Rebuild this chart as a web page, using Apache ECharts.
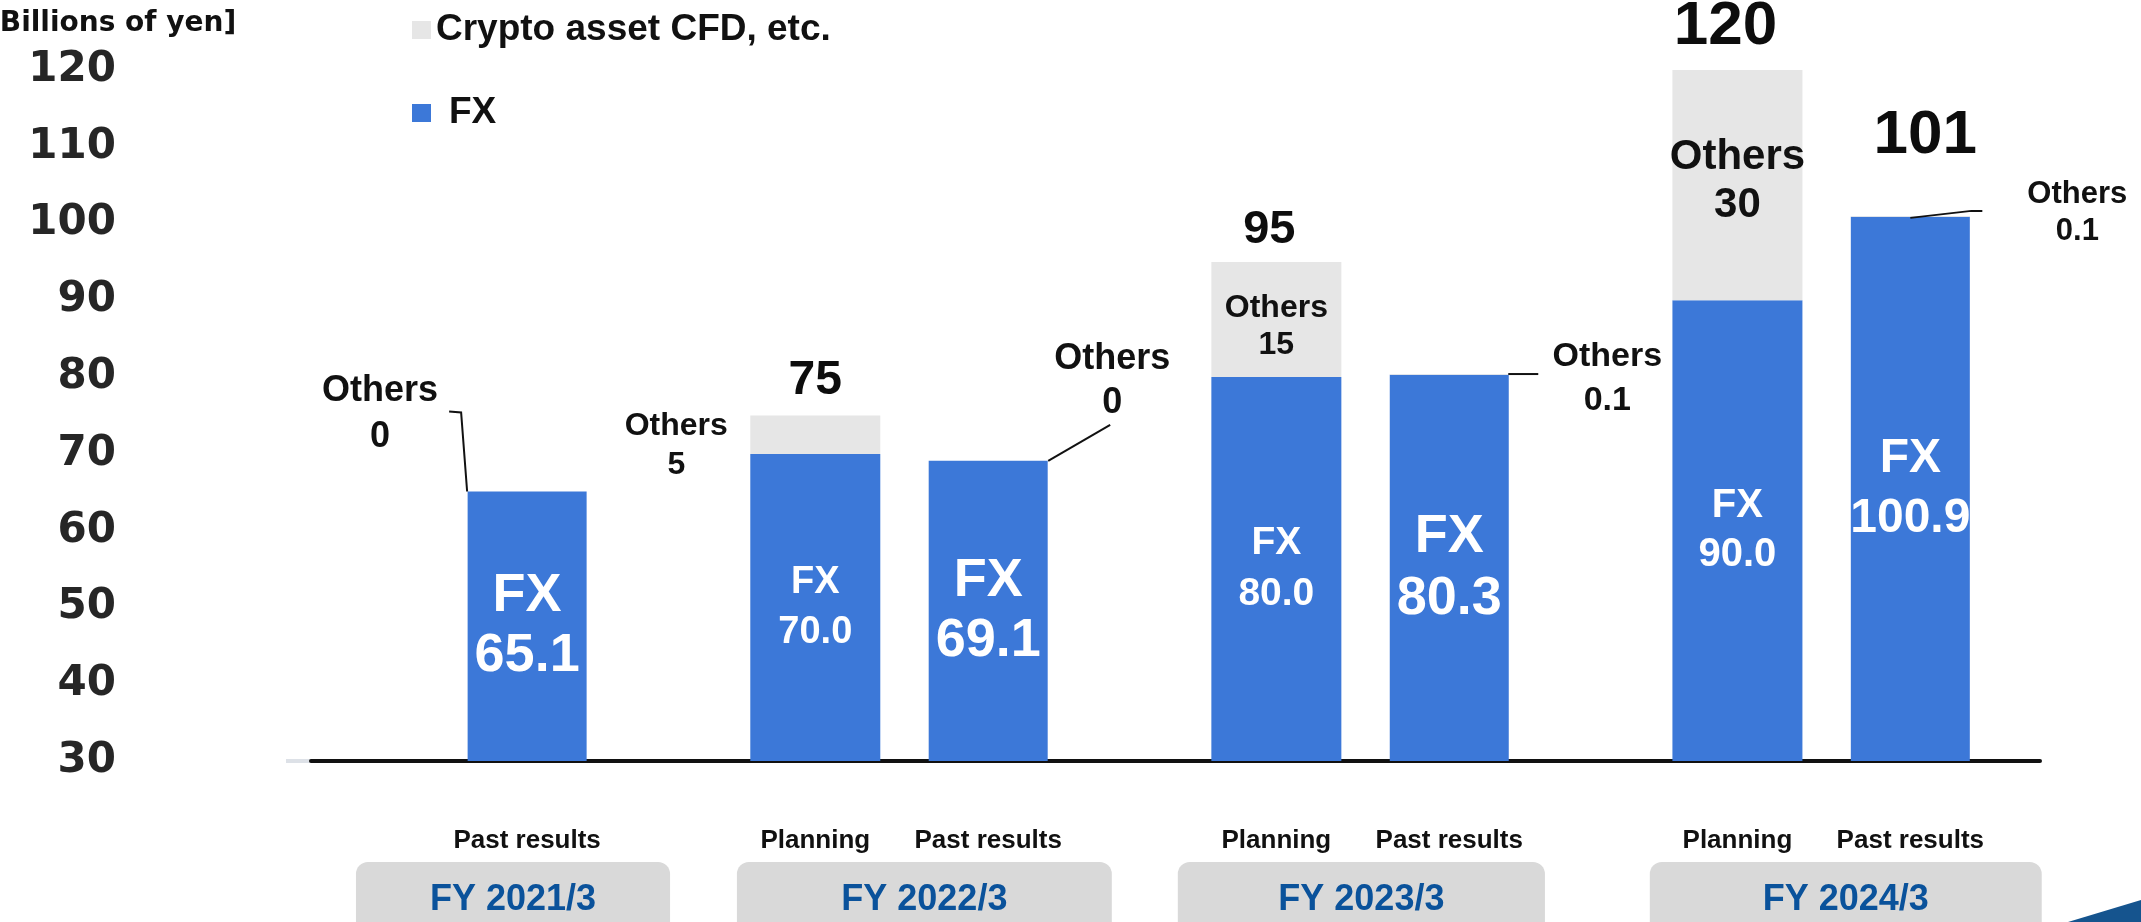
<!DOCTYPE html>
<html><head><meta charset="utf-8">
<script src="https://cdn.jsdelivr.net/npm/echarts@6/dist/echarts.min.js"></script>
<style>html,body{margin:0;padding:0;background:#fff}#c{width:2141px;height:922px}</style>
</head><body><div id="c"></div>
<script>
// ---------- data ----------
const CATEGORIES = ['Past results','Planning','Past results','Planning','Past results','Planning','Past results'];
const GROUPS = ['FY 2021/3','FY 2022/3','FY 2023/3','FY 2024/3'];
const FX = [65.1, 70.0, 69.1, 80.0, 80.3, 90.0, 100.9];
const OTHERS = [0, 5, 0, 15, 0.1, 30, 0.1];
const TOTAL_LABELS = ['', '75', '', '95', '', '120', '101'];
const SERIES_NAMES = ['Crypto asset CFD, etc.', 'FX'];
const Y_MIN = 30, Y_MAX = 120, Y_STEP = 10;
const Y_TITLE = '[Billions of yen]';

// ---------- layout (positions / sizes / styles) ----------
const N_SLOTS = 60;
const SLOT = [7, 17, 23, 33, 39, 49, 55];
const BOX_SPAN = [[1.06, 11.96], [14.28, 27.29], [29.58, 42.32], [45.96, 59.56]];
const FONT = "'Liberation Sans', Arial, sans-serif";
const WIDE_FONT = "'DejaVu Sans', 'Liberation Sans', sans-serif";
const BLUE = '#3c78d8', GREY = '#e6e6e6';
const TOTAL_STYLE = {1: {dx: 0, dy: -35, size: 48}, 3: {dx: -7, dy: -32, size: 47}, 5: {dx: -12, dy: -43, size: 62}, 6: {dx: 15, dy: -80, size: 62}};
const CALLOUT = {
  0: {dx: -147, dy: -77, size: 36, lh: 46, line: [[-60, 0], [-66, -79], [-78, -80]]},
  2: {dx: 124, dy: -80, size: 36, lh: 44, line: [[60, 0], [122, -36]]},
  4: {dx: 158, dy: 5, size: 34, lh: 44, line: [[59, 0], [89, 0]]},
  6: {dx: 167, dy: -3, size: 31, lh: 37, line: [[0, 2], [61, -5], [72, -5]]}
};
const OTHERS_LABEL = {
  1: {position: 'left', distance: 74, align: 'center', offset: [0, 11], fontSize: 32, lineHeight: 39},
  3: {position: 'inside', offset: [0, 7], fontSize: 32, lineHeight: 37},
  5: {position: 'inside', offset: [0, -4], fontSize: 42, lineHeight: 48}
};
const FX_LABEL_SIZE = {0: [54, 60], 1: [38, 50], 2: [54, 60], 3: [39, 51], 4: [54, 62], 5: [40, 49], 6: [48, 60]};

const isPlan = i => CATEGORIES[i] === 'Planning';
const slotLabels = Array(N_SLOTS).fill('');
SLOT.forEach((s, i) => { slotLabels[s] = CATEGORIES[i]; });
function slotData(values, pred, itemFn) {
  const arr = Array(N_SLOTS).fill('-');
  SLOT.forEach((s, i) => { if (pred(i)) arr[s] = itemFn ? itemFn(i, values[i]) : values[i]; });
  return arr;
}
const fxItem = (i, v) => ({value: v, label: {fontSize: FX_LABEL_SIZE[i][0], lineHeight: FX_LABEL_SIZE[i][1]}});
const fxLabel = {
  show: true, position: 'inside', color: '#fff', fontFamily: FONT, fontWeight: 'bold',
  formatter: p => 'FX\n' + FX[SLOT.indexOf(p.dataIndex)].toFixed(1)
};

const chart = echarts.init(document.getElementById('c'), null, {renderer: 'canvas'});
chart.setOption({
  animation: false,
  backgroundColor: '#fff',
  title: {text: Y_TITLE, left: -13, top: 10, padding: 0,
    textStyle: {fontFamily: WIDE_FONT, fontWeight: 'bold', fontSize: 28, color: '#111'}},
  legend: {
    data: SERIES_NAMES, orient: 'vertical', left: 412, top: 10, padding: 0,
    icon: 'rect', itemWidth: 19, itemHeight: 18, itemGap: 43, selectedMode: false,
    formatter: name => name === 'FX' ? '{p|FX}' : name,
    textStyle: {fontFamily: FONT, fontWeight: 'bold', fontSize: 37, lineHeight: 40, color: '#111',
      rich: {p: {padding: [0, 0, 0, 13], fontFamily: FONT, fontWeight: 'bold', fontSize: 37, lineHeight: 40, color: '#111'}}}
  },
  grid: {left: 311, right: 101, top: 70, bottom: 161, containLabel: false},
  xAxis: [
    {type: 'category', data: slotLabels, position: 'bottom',
      axisLine: {lineStyle: {color: '#111', width: 4}}, axisTick: {show: false},
      axisLabel: {interval: 0, margin: 67, fontFamily: FONT, fontWeight: 'bold', fontSize: 26, color: '#111'}},
    {type: 'category', data: slotLabels, position: 'bottom', show: false}
  ],
  yAxis: {type: 'value', min: Y_MIN, max: Y_MAX, interval: Y_STEP,
    axisLine: {show: false}, axisTick: {show: false}, splitLine: {show: false},
    axisLabel: {margin: 195, fontFamily: WIDE_FONT, fontWeight: 'bold', fontSize: 42, color: '#262626'}},
  graphic: [
    {type: 'line', shape: {x1: 286, y1: 761, x2: 311, y2: 761}, style: {stroke: '#dde1e7', lineWidth: 4}},
    {type: 'polygon', shape: {points: [[2068, 922], [2141, 900], [2141, 922]]}, style: {fill: '#15548e'}}
  ],
  series: [
    {name: 'FX', type: 'bar', xAxisIndex: 0, stack: 'past', barWidth: 119,
      itemStyle: {color: BLUE}, label: fxLabel,
      data: slotData(FX, i => !isPlan(i), fxItem)},
    {name: SERIES_NAMES[0], type: 'bar', xAxisIndex: 0, stack: 'past', barWidth: 119,
      itemStyle: {color: GREY}, data: slotData(OTHERS, i => !isPlan(i))},
    {name: 'FX', type: 'bar', xAxisIndex: 1, stack: 'plan', barWidth: 130,
      itemStyle: {color: BLUE}, label: fxLabel,
      data: slotData(FX, isPlan, fxItem)},
    {name: SERIES_NAMES[0], type: 'bar', xAxisIndex: 1, stack: 'plan', barWidth: 130,
      itemStyle: {color: GREY},
      data: slotData(OTHERS, isPlan, (i, v) => ({value: v, label: Object.assign({
        show: true, color: '#111', fontFamily: FONT, fontWeight: 'bold',
        formatter: 'Others\n' + String(v)}, OTHERS_LABEL[i])}))},
    {name: 'annotations', type: 'custom', xAxisIndex: 0, yAxisIndex: 0, clip: false, z: 5,
      data: SLOT.map((s, i) => [s, FX[i] + OTHERS[i]]),
      renderItem: (params, api) => {
        const i = params.dataIndex;
        const p = api.coord([api.value(0), api.value(1)]);
        const children = [];
        if (TOTAL_LABELS[i]) {
          const t = TOTAL_STYLE[i];
          children.push({type: 'text', x: p[0] + t.dx, y: p[1] + t.dy,
            style: {text: TOTAL_LABELS[i], align: 'center', verticalAlign: 'middle',
              font: 'bold ' + t.size + 'px ' + FONT, fill: '#0d0d0d'}});
        }
        const c = CALLOUT[i];
        if (c) {
          children.push({type: 'polyline', shape: {points: c.line.map(d => [p[0] + d[0], p[1] + d[1]])},
            style: {stroke: '#111', lineWidth: 2, fill: null}});
          children.push({type: 'text', x: p[0] + c.dx, y: p[1] + c.dy,
            style: {text: 'Others\n' + String(OTHERS[i]), align: 'center', verticalAlign: 'middle',
              font: 'bold ' + c.size + 'px ' + FONT, lineHeight: c.lh, fill: '#111'}});
        }
        return {type: 'group', children};
      }},
    {name: 'groups', type: 'custom', xAxisIndex: 0, yAxisIndex: 0, clip: false, z: 1,
      data: GROUPS.map(() => [0, Y_MIN]),
      renderItem: (params, api) => {
        const i = params.dataIndex;
        const base = api.coord([0, Y_MIN]);
        const u = api.size([1, 0])[0];
        const x0 = base[0] + BOX_SPAN[i][0] * u, x1 = base[0] + BOX_SPAN[i][1] * u;
        return {type: 'group', children: [
          {type: 'rect', shape: {x: x0, y: base[1] + 101, width: x1 - x0, height: 90, r: 12},
            style: {fill: '#d9d9d9'}},
          {type: 'text', x: (x0 + x1) / 2, y: base[1] + 139,
            style: {text: GROUPS[i], align: 'center', verticalAlign: 'middle',
              font: 'bold 36px ' + FONT, fill: '#0a529b'}}
        ]};
      }}
  ]
});
</script></body></html>
